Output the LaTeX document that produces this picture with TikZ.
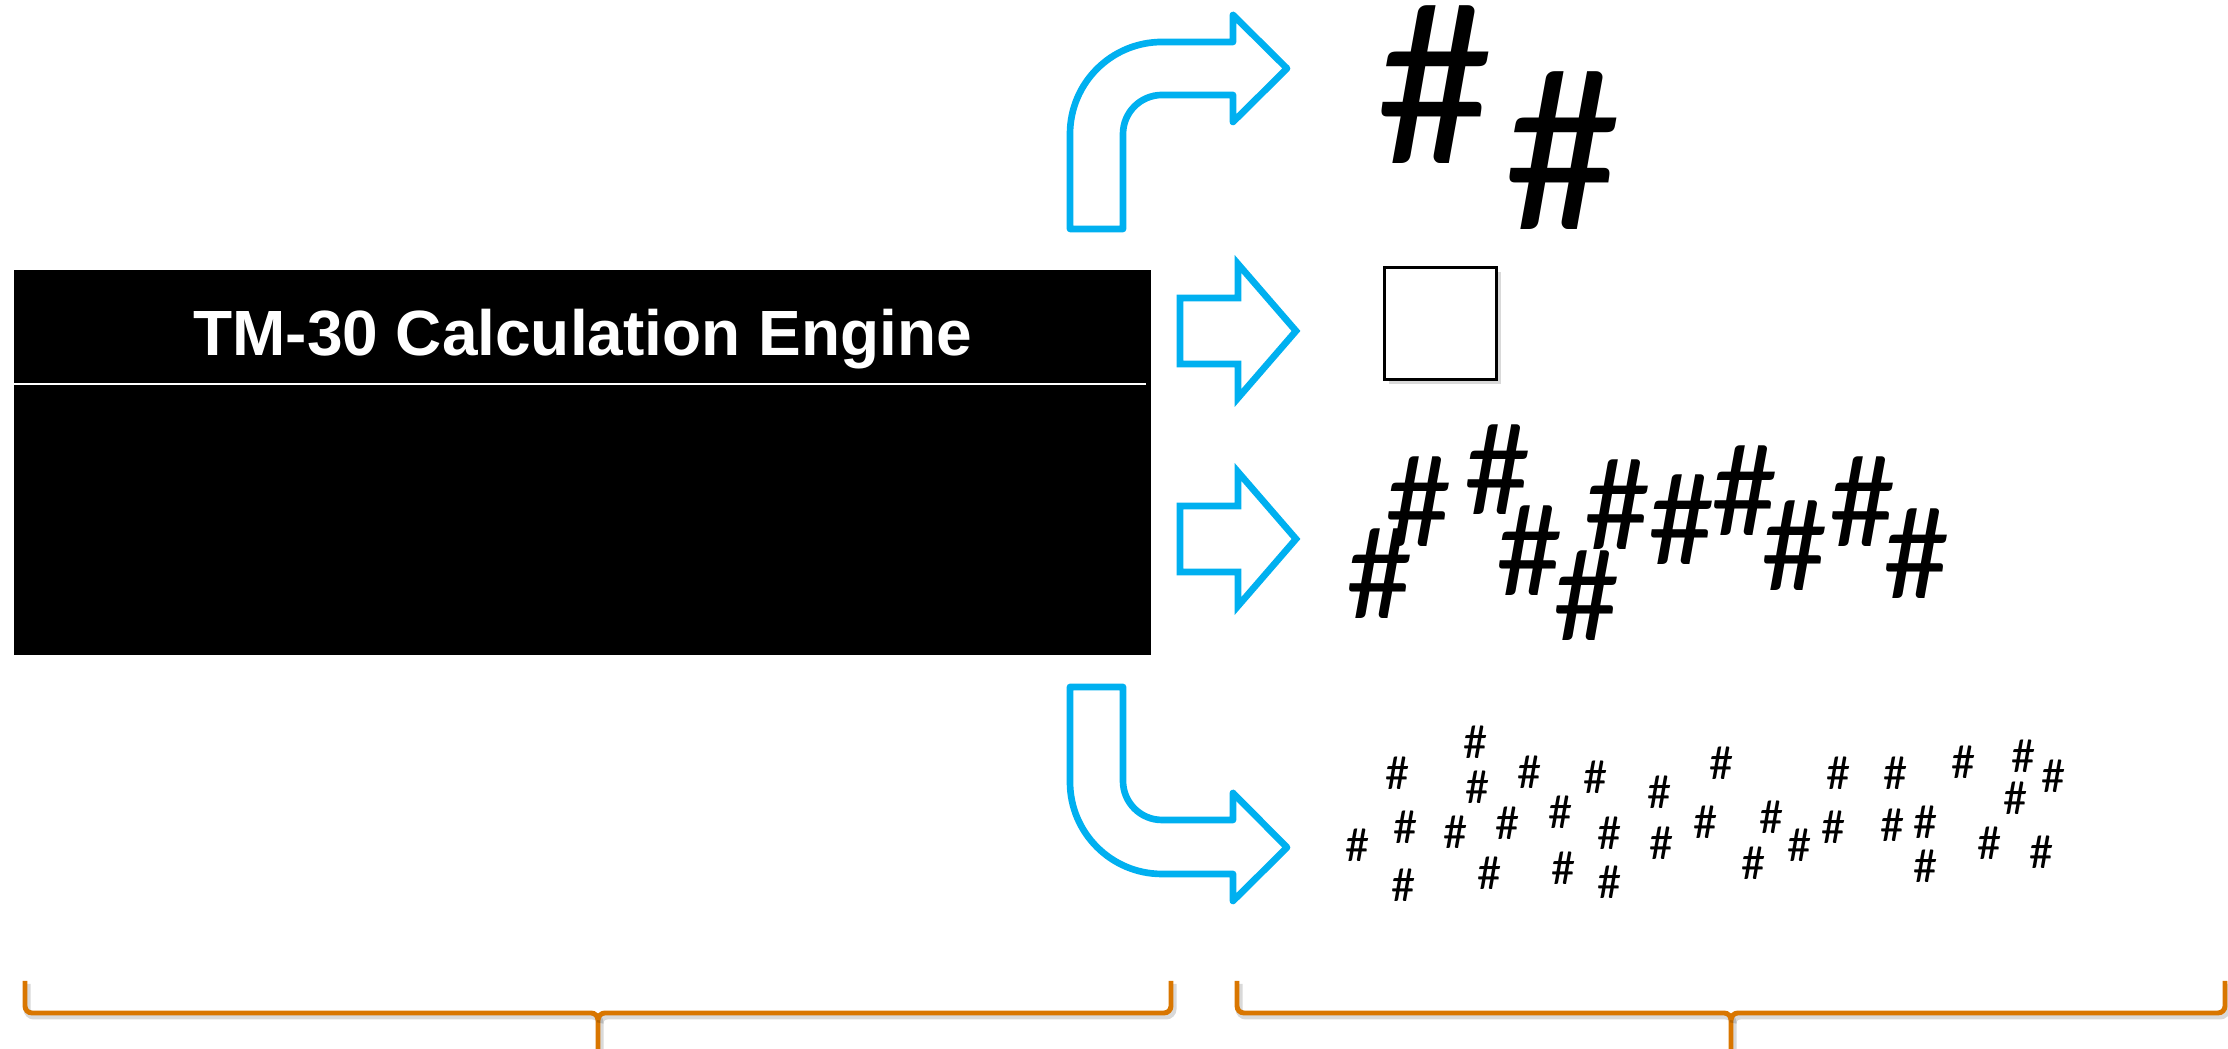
\documentclass[tikz,border=0pt]{standalone}
\usepackage{fontspec}
\setsansfont{Liberation Sans}
\newfontfamily\hashfont{Carlito}
\usetikzlibrary{calc,positioning,shadows}
\definecolor{arrowblue}{RGB}{0,176,240}
\definecolor{braceorange}{RGB}{217,118,0}
\tikzset{
    %Define style for the engine box
    engine/.style={
           rectangle,
           fill=black,
           inner sep=0pt,
           minimum width=11.37cm,
           minimum height=3.85cm},
    %Define style for the engine title
    enginetitle/.style={
           text=white,
           inner sep=0pt,
           font=\sffamily\bfseries\fontsize{18.2}{22}\selectfont},
    % Define block arrow style
    blockarrow/.style={
           draw=arrowblue,
           line width=1.9pt,
           fill=white},
    %Define style for the output square
    outbox/.style={
           rectangle,
           draw=black,
           line width=0.9pt,
           fill=white,
           minimum size=1.12cm,
           drop shadow={shadow xshift=0.04cm,shadow yshift=-0.05cm,opacity=0.3}},
    % Define hash styles
    hashbig/.style={inner sep=0pt,font=\hashfont\fontsize{66.5}{72}\selectfont},
    hashmid/.style={inner sep=0pt,font=\hashfont\fontsize{37.8}{42}\selectfont},
    hashsmall/.style={inner sep=0pt,font=\hashfont\fontsize{13.7}{16}\selectfont},
    % Define brace style
    orangebrace/.style={
           draw=braceorange,
           line width=1.4pt,
           preaction={draw=black,opacity=0.15,line width=2pt,
                      transform canvas={shift={(0.02,-0.03)}}}}
}
\begin{document}
\begin{tikzpicture}[node distance=1cm, auto, font=\sffamily]
 \useasboundingbox (0,0) rectangle (22.28,10.49);

 %Engine
 \node[engine] (eng) at (5.825,5.865) {};
 \node[enginetitle,anchor=base] (title) at (eng.center |- 0,6.93) {TM-30 Calculation Engine};
 \draw[white,line width=0.6pt] (0.14,6.65) -- (11.46,6.65);

%%%%%
 %Bent arrows
 \draw[blockarrow,line join=round] (10.70,8.20) -- (10.70,9.15)
    arc[start angle=180,end angle=90,radius=0.92] -- (12.33,10.07) -- (12.33,10.34)
    -- (12.87,9.805) -- (12.33,9.27) -- (12.33,9.54) -- (11.62,9.54)
    arc[start angle=90,end angle=180,radius=0.39] -- (11.23,8.20) -- cycle;
 \draw[blockarrow,line join=round] (10.70,3.62) -- (10.70,2.67)
    arc[start angle=180,end angle=270,radius=0.92] -- (12.33,1.75) -- (12.33,1.48)
    -- (12.87,2.015) -- (12.33,2.56) -- (12.33,2.29) -- (11.62,2.29)
    arc[start angle=270,end angle=180,radius=0.39] -- (11.23,3.62) -- cycle;

 %Straight arrows
 \foreach \y in {7.18,5.10}
   \draw[blockarrow] (11.80,\y+0.33) -- (12.38,\y+0.33) -- (12.38,\y+0.67) -- (12.96,\y)
      -- (12.38,\y-0.67) -- (12.38,\y-0.33) -- (11.80,\y-0.33) -- cycle;
%%%%%

 %Outputs
 \node[hashbig] (big1) at (14.35,9.64) {\#};
 \node[hashbig] (big2) at (15.63,8.98) {\#};

 \node[outbox] (square) at (14.405,7.255) {};

 \foreach \x/\y [count=\i] in {13.80/4.75,14.19/5.47,14.98/5.79,15.30/4.98,15.87/4.53,
     16.18/5.44,16.82/5.29,17.45/5.58,17.95/5.03,18.63/5.47,19.17/4.95}
   \node[hashmid] (mid\i) at (\x,\y) {\#};

 \foreach \x/\y [count=\i] in {13.57/2.04,13.97/2.76,14.05/2.22,14.03/1.64,14.75/3.07,
     14.77/2.62,14.55/2.17,15.29/2.77,15.07/2.26,14.89/1.76,15.60/2.37,15.63/1.81,
     15.95/2.72,16.09/2.16,16.09/1.67,16.59/2.57,16.61/2.06,17.21/2.86,17.05/2.27,
     17.71/2.32,17.53/1.86,17.99/2.04,18.33/2.22,18.38/2.76,18.95/2.76,18.92/2.24,
     19.25/2.27,19.25/1.83,19.63/2.87,19.89/2.06,20.23/2.93,20.15/2.51,20.53/2.73,
     20.41/1.97}
   \node[hashsmall] (small\i) at (\x,\y) {\#};

%%%%%
 %Braces
 \draw[orangebrace] (0.25,0.68) -- (0.25,0.43) to[out=-90,in=180] (0.32,0.36) -- (5.91,0.36)
    to[out=0,in=90] (5.98,0.29) -- (5.98,0);
 \draw[orangebrace] (5.98,0.29) to[out=90,in=180] (6.05,0.36) -- (11.64,0.36)
    to[out=0,in=-90] (11.71,0.43) -- (11.71,0.68);
 \draw[orangebrace] (12.37,0.68) -- (12.37,0.43) to[out=-90,in=180] (12.44,0.36) -- (17.24,0.36)
    to[out=0,in=90] (17.31,0.29) -- (17.31,0);
 \draw[orangebrace] (17.31,0.29) to[out=90,in=180] (17.38,0.36) -- (22.18,0.36)
    to[out=0,in=-90] (22.25,0.43) -- (22.25,0.68);
\end{tikzpicture}
\end{document}
